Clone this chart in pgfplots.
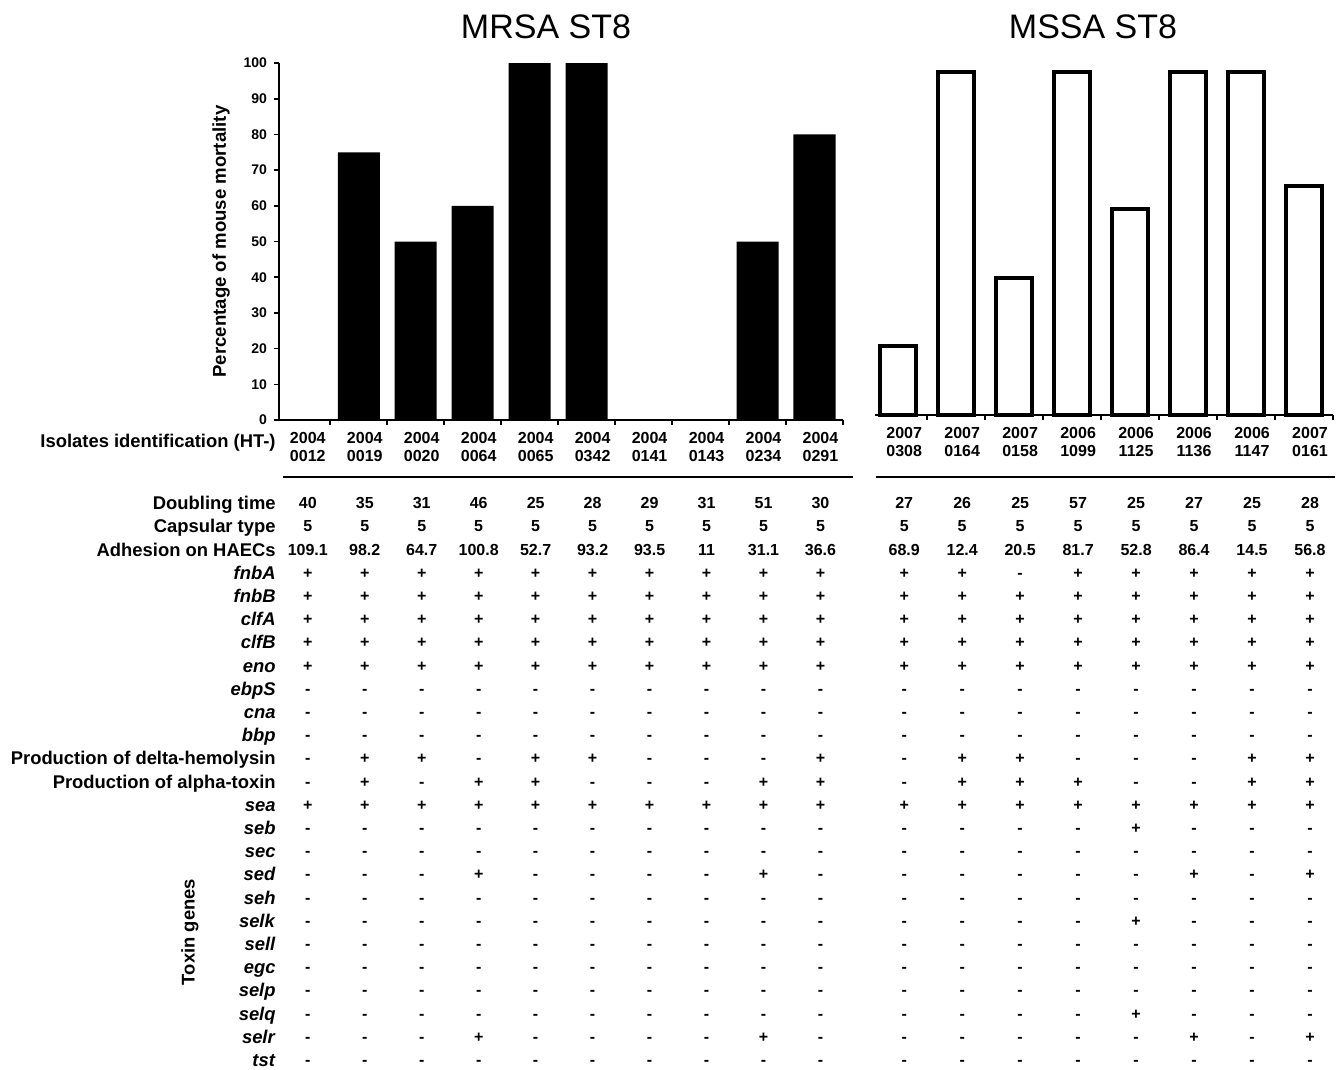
\documentclass[border=0pt]{standalone}
\usepackage{fontspec}
\setmainfont{Liberation Sans}
\usepackage{pgfplots}
\pgfplotsset{compat=1.18}
\tikzset{
  rowlab/.style={anchor=east, inner sep=0pt, font=\bfseries\fontsize{9.2}{11}\selectfont, text height=6.6pt, text depth=0pt},
  val/.style={anchor=center, inner sep=0pt, font=\bfseries\fontsize{8}{9}\selectfont, text height=5.7pt, text depth=0pt, xshift=3pt},
}
\newcommand\trow[4]{%
  \pgfmathsetmacro\yy{503+23.2*#1}%
  \coordinate (row) at (0,\yy);%
  \node[rowlab] at (276,\yy) {#2};%
  \foreach \v [count=\c from 0] in {#3} {\node[val] at (L\c |- row) {\v};}%
  \foreach \v [count=\c from 0] in {#4} {\node[val] at (R\c |- row) {\v};}%
}
\begin{document}
\begin{tikzpicture}
\path[use as bounding box] (0,0) rectangle (672pt,-535pt);
\pgfplotsset{
  common/.style={
    scale only axis, clip=false,
    ymin=0, ymax=100,
    axis line style={line width=1pt},
    tick style={black, line width=0.8pt},
    tick align=outside,
    xtick pos=bottom,
    major x tick style={draw=none},
    minor tick length=2.5pt, major tick length=2.5pt,
    xticklabel style={font=\bfseries\fontsize{8}{9}\selectfont, align=center, xshift=3pt},
    /pgf/number format/assume math mode=true,
  }
}
\begin{axis}[common, at={(139.5pt,-210pt)}, anchor=south west,
  width=282pt, height=178.5pt,
  xmin=-0.4, xmax=9.5,
  axis x line*=bottom, axis y line*=left,
  ytick={0,10,...,100},
  yticklabel style={font=\bfseries\fontsize{7}{8}\selectfont},
  xtick={0,...,9}, minor xtick={0.5,1.5,...,9.5},
  xticklabels={{2004\\0012},{2004\\0019},{2004\\0020},{2004\\0064},{2004\\0065},{2004\\0342},{2004\\0141},{2004\\0143},{2004\\0234},{2004\\0291}},
  ylabel={Percentage of mouse mortality},
  ylabel style={font=\bfseries\fontsize{9.3}{11}\selectfont},
]
\addplot[ybar, bar width=21pt, fill=black, draw=none] coordinates {(0,0) (1,75) (2,50) (3,60) (4,100) (5,100) (6,0) (7,0) (8,50) (9,80)};
\pgfplotsinvokeforeach{0,...,9}{\coordinate (L#1) at (axis cs:#1,0);}
\end{axis}
\begin{axis}[common, at={(437.5pt,-207.5pt)}, anchor=south west,
  width=229pt, height=171.5pt,
  xmin=-0.4, xmax=7.5,
  axis x line*=bottom, axis y line=none,
  xtick={0,...,7}, minor xtick={0.5,1.5,...,7.5},
  xticklabels={{2007\\0308},{2007\\0164},{2007\\0158},{2006\\1099},{2006\\1125},{2006\\1136},{2006\\1147},{2007\\0161}},
]
\addplot[ybar, bar width=18pt, fill=white, draw=black, line width=2pt] coordinates {(0,20) (1,100) (2,40) (3,100) (4,60) (5,100) (6,100) (7,66.7)};
\pgfplotsinvokeforeach{0,...,7}{\coordinate (R#1) at (axis cs:#1,0);}
\end{axis}
\node[font=\fontsize{17}{20}\selectfont] at (273pt,-13.5pt) {MRSA ST8};
\node[font=\fontsize{17}{20}\selectfont] at (546.5pt,-13.5pt) {MSSA ST8};
\begin{scope}[x=0.5pt,y=-0.5pt]
\node[rowlab] at (276,441) {Isolates identification (HT-)};
\draw[line width=1pt] (283,477) -- (853,477);
\draw[line width=1pt] (876,477) -- (1335,477);
\trow{0}{Doubling time}{40,35,31,46,25,28,29,31,51,30}{27,26,25,57,25,27,25,28}
\trow{1}{Capsular type}{5,5,5,5,5,5,5,5,5,5}{5,5,5,5,5,5,5,5}
\trow{2}{Adhesion on HAECs}{109.1,98.2,64.7,100.8,52.7,93.2,93.5,11,31.1,36.6}{68.9,12.4,20.5,81.7,52.8,86.4,14.5,56.8}
\trow{3}{\textit{fnbA}}{+,+,+,+,+,+,+,+,+,+}{+,+,-,+,+,+,+,+}
\trow{4}{\textit{fnbB}}{+,+,+,+,+,+,+,+,+,+}{+,+,+,+,+,+,+,+}
\trow{5}{\textit{clfA}}{+,+,+,+,+,+,+,+,+,+}{+,+,+,+,+,+,+,+}
\trow{6}{\textit{clfB}}{+,+,+,+,+,+,+,+,+,+}{+,+,+,+,+,+,+,+}
\trow{7}{\textit{eno}}{+,+,+,+,+,+,+,+,+,+}{+,+,+,+,+,+,+,+}
\trow{8}{\textit{ebpS}}{-,-,-,-,-,-,-,-,-,-}{-,-,-,-,-,-,-,-}
\trow{9}{\textit{cna}}{-,-,-,-,-,-,-,-,-,-}{-,-,-,-,-,-,-,-}
\trow{10}{\textit{bbp}}{-,-,-,-,-,-,-,-,-,-}{-,-,-,-,-,-,-,-}
\trow{11}{Production of delta-hemolysin}{-,+,+,-,+,+,-,-,-,+}{-,+,+,-,-,-,+,+}
\trow{12}{Production of alpha-toxin}{-,+,-,+,+,-,-,-,+,+}{-,+,+,+,-,-,+,+}
\trow{13}{\textit{sea}}{+,+,+,+,+,+,+,+,+,+}{+,+,+,+,+,+,+,+}
\trow{14}{\textit{seb}}{-,-,-,-,-,-,-,-,-,-}{-,-,-,-,+,-,-,-}
\trow{15}{\textit{sec}}{-,-,-,-,-,-,-,-,-,-}{-,-,-,-,-,-,-,-}
\trow{16}{\textit{sed}}{-,-,-,+,-,-,-,-,+,-}{-,-,-,-,-,+,-,+}
\trow{17}{\textit{seh}}{-,-,-,-,-,-,-,-,-,-}{-,-,-,-,-,-,-,-}
\trow{18}{\textit{selk}}{-,-,-,-,-,-,-,-,-,-}{-,-,-,-,+,-,-,-}
\trow{19}{\textit{sell}}{-,-,-,-,-,-,-,-,-,-}{-,-,-,-,-,-,-,-}
\trow{20}{\textit{egc}}{-,-,-,-,-,-,-,-,-,-}{-,-,-,-,-,-,-,-}
\trow{21}{\textit{selp}}{-,-,-,-,-,-,-,-,-,-}{-,-,-,-,-,-,-,-}
\trow{22}{\textit{selq}}{-,-,-,-,-,-,-,-,-,-}{-,-,-,-,+,-,-,-}
\trow{23}{\textit{selr}}{-,-,-,+,-,-,-,-,+,-}{-,-,-,-,-,+,-,+}
\trow{24}{\textit{tst}}{-,-,-,-,-,-,-,-,-,-}{-,-,-,-,-,-,-,-}
\node[rotate=90, inner sep=0pt, font=\bfseries\fontsize{9.2}{11}\selectfont] at (190,932) {Toxin genes};
\end{scope}
\end{tikzpicture}
\end{document}
